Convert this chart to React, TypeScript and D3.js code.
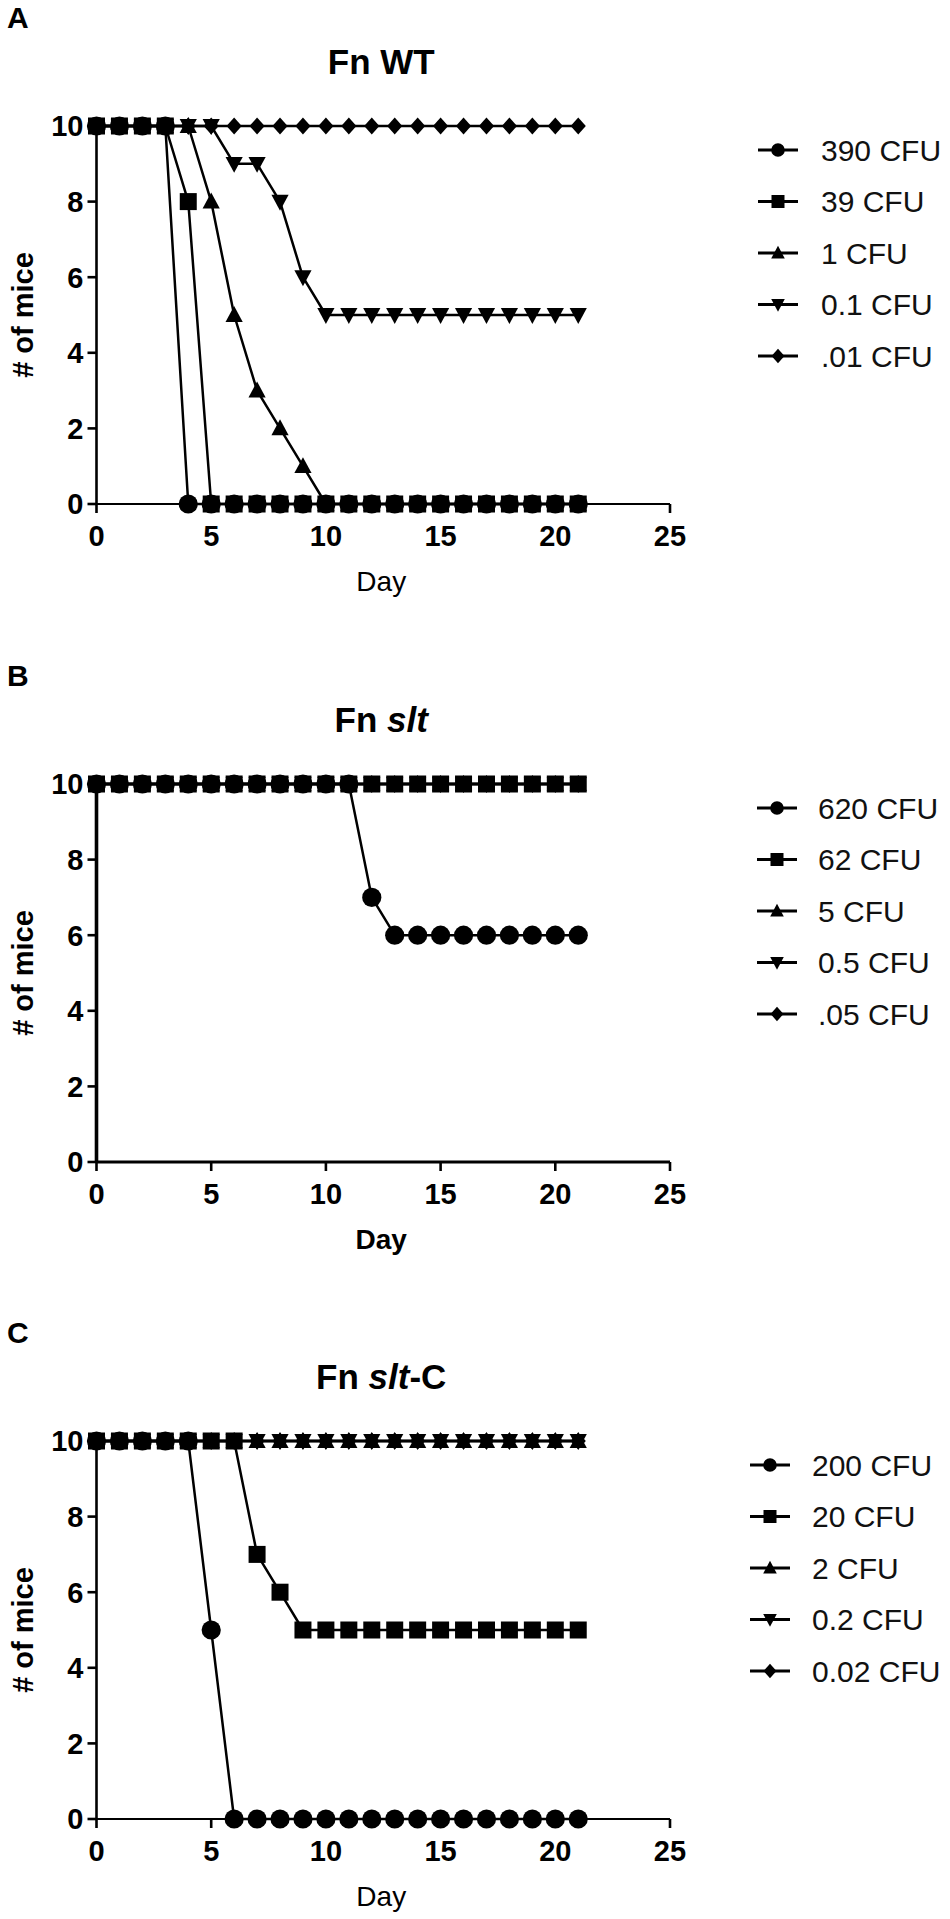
import React from "react";
import * as d3 from "d3";

// ---------- data ----------
const days = [0, 1, 2, 3, 4, 5, 6, 7, 8, 9, 10, 11, 12, 13, 14, 15, 16, 17, 18, 19, 20, 21];
const xTicks = [0, 5, 10, 15, 20, 25];
const yTicks = [0, 2, 4, 6, 8, 10];
const shapes = ["circle", "square", "triangle", "triangleDown", "diamond"];

// Panel A: Fn WT
const aLabels = ["390 CFU", "39 CFU", "1 CFU", "0.1 CFU", ".01 CFU"];
const a390 = [10, 10, 10, 10, 0, 0, 0, 0, 0, 0, 0, 0, 0, 0, 0, 0, 0, 0, 0, 0, 0, 0];
const a39 = [10, 10, 10, 10, 8, 0, 0, 0, 0, 0, 0, 0, 0, 0, 0, 0, 0, 0, 0, 0, 0, 0];
const a1 = [10, 10, 10, 10, 10, 8, 5, 3, 2, 1, 0, 0, 0, 0, 0, 0, 0, 0, 0, 0, 0, 0];
const a01 = [10, 10, 10, 10, 10, 10, 9, 9, 8, 6, 5, 5, 5, 5, 5, 5, 5, 5, 5, 5, 5, 5];
const a001 = [10, 10, 10, 10, 10, 10, 10, 10, 10, 10, 10, 10, 10, 10, 10, 10, 10, 10, 10, 10, 10, 10];

// Panel B: Fn slt
const bLabels = ["620 CFU", "62 CFU", "5 CFU", "0.5 CFU", ".05 CFU"];
const b620 = [10, 10, 10, 10, 10, 10, 10, 10, 10, 10, 10, 10, 7, 6, 6, 6, 6, 6, 6, 6, 6, 6];
const b62 = [10, 10, 10, 10, 10, 10, 10, 10, 10, 10, 10, 10, 10, 10, 10, 10, 10, 10, 10, 10, 10, 10];
const b5 = [10, 10, 10, 10, 10, 10, 10, 10, 10, 10, 10, 10, 10, 10, 10, 10, 10, 10, 10, 10, 10, 10];
const b05 = [10, 10, 10, 10, 10, 10, 10, 10, 10, 10, 10, 10, 10, 10, 10, 10, 10, 10, 10, 10, 10, 10];
const b005 = [10, 10, 10, 10, 10, 10, 10, 10, 10, 10, 10, 10, 10, 10, 10, 10, 10, 10, 10, 10, 10, 10];

// Panel C: Fn slt-C
const cLabels = ["200 CFU", "20 CFU", "2 CFU", "0.2 CFU", "0.02 CFU"];
const c200 = [10, 10, 10, 10, 10, 5, 0, 0, 0, 0, 0, 0, 0, 0, 0, 0, 0, 0, 0, 0, 0, 0];
const c20 = [10, 10, 10, 10, 10, 10, 10, 7, 6, 5, 5, 5, 5, 5, 5, 5, 5, 5, 5, 5, 5, 5];
const c2 = [10, 10, 10, 10, 10, 10, 10, 10, 10, 10, 10, 10, 10, 10, 10, 10, 10, 10, 10, 10, 10, 10];
const c02 = [10, 10, 10, 10, 10, 10, 10, 10, 10, 10, 10, 10, 10, 10, 10, 10, 10, 10, 10, 10, 10, 10];
const c002 = [10, 10, 10, 10, 10, 10, 10, 10, 10, 10, 10, 10, 10, 10, 10, 10, 10, 10, 10, 10, 10, 10];

// ---------- layout ----------
const FONT = "'Liberation Sans', Arial, Helvetica, sans-serif";
const NARROW = "'Liberation Sans Narrow', 'Arial Narrow', 'Liberation Sans', Arial, sans-serif";
const X0 = 96.5;
const X25 = 670;
const SPAN = 378;

type Panel = {
  letter: string;
  title: { text: string; italic?: boolean }[];
  labels: string[];
  series: number[][];
  top: number; // y of value 10
  legendX: number;
  legendTextX: number;
  dayBold: boolean;
  axisW: number;
};

const panels: Panel[] = [
  {
    letter: "A",
    title: [{ text: "Fn WT" }],
    labels: aLabels,
    series: [a390, a39, a1, a01, a001],
    top: 126,
    legendX: 778,
    legendTextX: 821,
    dayBold: false,
    axisW: 2.6,
  },
  {
    letter: "B",
    title: [{ text: "Fn " }, { text: "slt", italic: true }],
    labels: bLabels,
    series: [b620, b62, b5, b05, b005],
    top: 784,
    legendX: 777,
    legendTextX: 818,
    dayBold: true,
    axisW: 3.6,
  },
  {
    letter: "C",
    title: [{ text: "Fn " }, { text: "slt", italic: true }, { text: "-C" }],
    labels: cLabels,
    series: [c200, c20, c2, c02, c002],
    top: 1441,
    legendX: 770,
    legendTextX: 812,
    dayBold: false,
    axisW: 2.6,
  },
];

function markerPath(shape: string, s: number): string {
  const p = d3.path();
  if (shape === "circle") {
    p.arc(0, 0, s, 0, Math.PI * 2);
  } else if (shape === "square") {
    p.rect(-s, -s, 2 * s, 2 * s);
  } else if (shape === "triangle") {
    p.moveTo(0, -s * 1.05);
    p.lineTo(s * 1.0, s * 0.8);
    p.lineTo(-s * 1.0, s * 0.8);
    p.closePath();
  } else if (shape === "triangleDown") {
    p.moveTo(0, s * 1.05);
    p.lineTo(s * 1.0, -s * 0.8);
    p.lineTo(-s * 1.0, -s * 0.8);
    p.closePath();
  } else {
    p.moveTo(0, -s * 1.05);
    p.lineTo(s * 0.95, 0);
    p.lineTo(0, s * 1.05);
    p.lineTo(-s * 0.95, 0);
    p.closePath();
  }
  return p.toString();
}

function PanelView({ panel }: { panel: Panel }) {
  const x = d3.scaleLinear().domain([0, 25]).range([X0, X25]);
  const y = d3.scaleLinear().domain([0, 10]).range([panel.top + SPAN, panel.top]);
  const line = d3
    .line<number>()
    .x((_, i) => x(days[i]))
    .y((v) => y(v));
  const y0 = y(0);
  const cx = (X0 + X25) / 2 - 2;
  const markerSizes = [9.6, 8.5, 8.6, 8.6, 8];
  const legendSizes = [6.8, 6.5, 6.8, 6.8, 6.8];

  return (
    <g>
      <text x={7} y={panel.top - 98} fontFamily={FONT} fontWeight="bold" fontSize={30}>
        {panel.letter}
      </text>
      <text x={cx} y={panel.top - 52} fontFamily={FONT} fontWeight="bold" fontSize={35} textAnchor="middle">
        {panel.title.map((t, i) => (
          <tspan key={i} fontStyle={t.italic ? "italic" : "normal"}>
            {t.text}
          </tspan>
        ))}
      </text>

      {/* axes */}
      <line x1={x(0)} x2={x(25)} y1={y0} y2={y0} stroke="#000" strokeWidth={panel.axisW - 0.4} />
      <line x1={x(0)} x2={x(0)} y1={y(10)} y2={y0} stroke="#000" strokeWidth={panel.axisW} />
      {xTicks.map((t) => (
        <g key={"x" + t}>
          <line x1={x(t)} x2={x(t)} y1={y0} y2={y0 + 9} stroke="#000" strokeWidth={2.6} />
          <text x={x(t)} y={y0 + 42} textAnchor="middle" fontFamily={NARROW} fontWeight="bold" fontSize={29}>
            {t}
          </text>
        </g>
      ))}
      {yTicks.map((t) => (
        <g key={"y" + t}>
          <line x1={x(0) - 9} x2={x(0)} y1={y(t)} y2={y(t)} stroke="#000" strokeWidth={2.6} />
          <text x={x(0) - 13} y={y(t) + 10.3} textAnchor="end" fontFamily={NARROW} fontWeight="bold" fontSize={29}>
            {t}
          </text>
        </g>
      ))}
      <text
        x={cx}
        y={y0 + 87}
        textAnchor="middle"
        fontFamily={FONT}
        fontWeight={panel.dayBold ? "bold" : "normal"}
        fontSize={28}
      >
        Day
      </text>
      <text
        transform={`translate(33,${(y0 + panel.top) / 2}) rotate(-90)`}
        textAnchor="middle"
        fontFamily={FONT}
        fontWeight="bold"
        fontSize={29}
      >
        # of mice
      </text>

      {/* lines */}
      {panel.series.map((s, i) => (
        <path key={"l" + i} d={line(s) || ""} fill="none" stroke="#000" strokeWidth={2.5} strokeLinejoin="round" />
      ))}
      {/* markers */}
      {panel.series.map((s, i) => (
        <g key={"m" + i}>
          {s.map((v, j) => (
            <path
              key={j}
              d={markerPath(shapes[i], markerSizes[i])}
              transform={`translate(${x(days[j])},${y(v)})`}
              fill="#000"
            />
          ))}
        </g>
      ))}

      {/* legend */}
      {panel.labels.map((lab, i) => {
        const ly = panel.top + 24 + i * 51.5;
        return (
          <g key={"lg" + i}>
            <line x1={panel.legendX - 20} x2={panel.legendX + 20} y1={ly} y2={ly} stroke="#000" strokeWidth={2.8} />
            <path d={markerPath(shapes[i], legendSizes[i])} transform={`translate(${panel.legendX},${ly})`} fill="#000" />
            <text x={panel.legendTextX} y={ly + 10.5} fontFamily={FONT} fontSize={30} fill="#111">
              {lab}
            </text>
          </g>
        );
      })}
    </g>
  );
}

export default function App() {
  return (
    <svg
      width={950}
      height={1919}
      viewBox="0 0 950 1919"
      style={{ position: "absolute", left: 0, top: 0, background: "#fff" }}
    >
      <rect x={0} y={0} width={950} height={1919} fill="#fff" />
      {panels.map((p) => (
        <PanelView key={p.letter} panel={p} />
      ))}
    </svg>
  );
}
